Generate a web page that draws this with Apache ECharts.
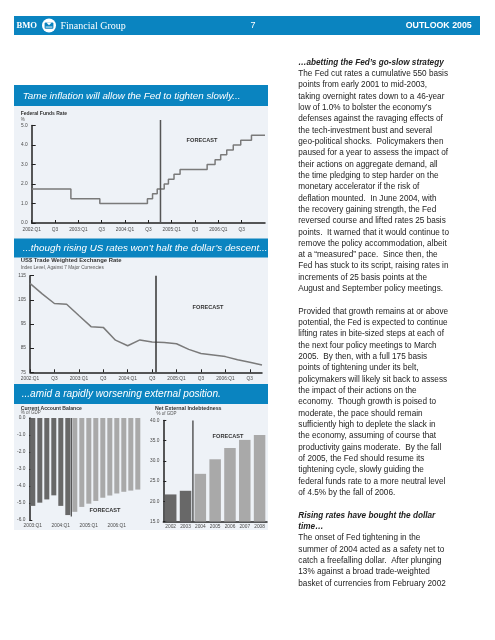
<!DOCTYPE html>
<html><head><meta charset="utf-8">
<script src="https://cdn.jsdelivr.net/npm/echarts@6/dist/echarts.min.js"></script>
<style>html,body{margin:0;padding:0;background:#fff}#c{width:495px;height:640px}</style>
</head><body><div id="c"></div>
<script>
// ---------------- DATA ----------------
// Federal funds rate: change dates (decimal years) and new target rate (%)
const fedDates = [2002.00, 2002.84, 2003.46, 2004.48, 2004.59, 2004.69, 2004.84, 2004.93, 2005.05, 2005.18, 2005.76, 2005.93, 2006.05, 2006.18, 2006.32, 2006.48, 2006.71, 2007.00];
const fedRates = [1.75, 1.25, 1.00, 1.25, 1.50, 1.75, 2.00, 2.25, 2.50, 2.75, 3.00, 3.25, 3.50, 3.75, 4.00, 4.25, 4.50, 4.50];
const fedForecastStart = 2004.76;
const fedYTicks = ['0.0', '1.0', '2.0', '3.0', '4.0', '5.0'];

// US$ trade weighted exchange rate, quarterly
const usdDates = [2002.00, 2002.25, 2002.50, 2002.75, 2003.00, 2003.25, 2003.50, 2003.75, 2004.00, 2004.25, 2004.50, 2004.75, 2005.00, 2005.25, 2005.50, 2005.75, 2006.00, 2006.25, 2006.50, 2006.75];
const usdIndex = [111.8, 107.5, 103.5, 103.2, 98.5, 93.9, 93.6, 88.3, 86.0, 88.4, 87.5, 87.3, 86.8, 84.5, 82.8, 82.2, 81.5, 80.2, 79.2, 78.0];
const usdForecastStart = 2004.58;

// x tick labels shared by the two time charts (every half year)
const halfYearLabels = ['2002:Q1', 'Q3', '2003:Q1', 'Q3', '2004:Q1', 'Q3', '2005:Q1', 'Q3', '2006:Q1', 'Q3'];

// Current account balance, % of GDP
const caQuarters = ['2003:Q1', '2003:Q2', '2003:Q3', '2003:Q4', '2004:Q1', '2004:Q2', '2004:Q3', '2004:Q4', '2005:Q1', '2005:Q2', '2005:Q3', '2005:Q4', '2006:Q1', '2006:Q2', '2006:Q3', '2006:Q4'];
const caBalance = [-5.17, -4.98, -4.79, -4.55, -5.17, -5.71, -5.52, -5.23, -5.04, -4.88, -4.69, -4.56, -4.44, -4.34, -4.27, -4.21];
const caForecastFrom = '2004:Q3';

// Net external indebtedness, % of GDP
const neYears = ['2002', '2003', '2004', '2005', '2006', '2007', '2008'];
const neDebt = [21.7, 22.6, 26.8, 30.4, 33.2, 35.2, 36.4];
const neForecastFrom = '2004';

// Page text
const headerLeft = 'Financial Group';
const headerPage = '7';
const headerRight = 'OUTLOOK 2005';
const chartTitles = [
  'Tame inflation will allow the Fed to tighten slowly...',
  '...though rising US rates won\u2019t halt the dollar\u2019s descent...',
  '...amid a rapidly worsening external position.'
];
const bodyLines = [
  ['h', '\u2026abetting the Fed\u2019s go-slow strategy'],
  ['b', 'The Fed cut rates a cumulative 550 basis'],
  ['b', 'points from early 2001 to mid-2003,'],
  ['b', 'taking overnight rates down to a 46-year'],
  ['b', 'low of 1.0% to bolster the economy\u2019s'],
  ['b', 'defenses against the ravaging effects of'],
  ['b', 'the tech-investment bust and several'],
  ['b', 'geo-political shocks.  Policymakers then'],
  ['b', 'paused for a year to assess the impact of'],
  ['b', 'their actions on aggregate demand, all'],
  ['b', 'the time pledging to step harder on the'],
  ['b', 'monetary accelerator if the risk of'],
  ['b', 'deflation mounted.  In June 2004, with'],
  ['b', 'the recovery gaining strength, the Fed'],
  ['b', 'reversed course and lifted rates 25 basis'],
  ['b', 'points.  It warned that it would continue to'],
  ['b', 'remove the policy accommodation, albeit'],
  ['b', 'at a \u201cmeasured\u201d pace.  Since then, the'],
  ['b', 'Fed has stuck to its script, raising rates in'],
  ['b', 'increments of 25 basis points at the'],
  ['b', 'August and September policy meetings.'],
  ['b', ' '],
  ['b', 'Provided that growth remains at or above'],
  ['b', 'potential, the Fed is expected to continue'],
  ['b', 'lifting rates in bite-sized steps at each of'],
  ['b', 'the next four policy meetings to March'],
  ['b', '2005.  By then, with a full 175 basis'],
  ['b', 'points of tightening under its belt,'],
  ['b', 'policymakers will likely sit back to assess'],
  ['b', 'the impact of their actions on the'],
  ['b', 'economy.  Though growth is poised to'],
  ['b', 'moderate, the pace should remain'],
  ['b', 'sufficiently high to deplete the slack in'],
  ['b', 'the economy, assuming of course that'],
  ['b', 'productivity gains moderate.  By the fall'],
  ['b', 'of 2005, the Fed should resume its'],
  ['b', 'tightening cycle, slowly guiding the'],
  ['b', 'federal funds rate to a more neutral level'],
  ['b', 'of 4.5% by the fall of 2006.'],
  ['b', ' '],
  ['h', 'Rising rates have bought the dollar'],
  ['h', 'time\u2026'],
  ['b', 'The onset of Fed tightening in the'],
  ['b', 'summer of 2004 acted as a safety net to'],
  ['b', 'catch a freefalling dollar.  After plunging'],
  ['b', '13% against a broad trade-weighted'],
  ['b', 'basket of currencies from February 2002']
];

// ---------------- STYLE ----------------
const FONT = '"Liberation Sans", Arial, sans-serif';
const SERIF = '"Liberation Serif", "Times New Roman", serif';
const BLUE = '#0a84c0';
const PANEL = '#eef2f7';
const AX = '#222';
const LBL = '#4a4a4a';
const DARK = '#686868';
const LIGHT = '#a9a9a9';

function halfYearFmt(v) {
  const i = Math.round((v - 2002) / 0.5);
  if (Math.abs(v - (2002 + i * 0.5)) > 1e-6) return '';
  return halfYearLabels[i] || '';
}
function axisLine() { return { show: true, onZero: false, lineStyle: { color: AX, width: 1.5 } }; }
function ticks(len) { return { show: true, inside: true, length: len, lineStyle: { color: AX, width: 1 } }; }
function lbl(extra) { return Object.assign({ fontSize: 4.8, color: LBL, fontFamily: FONT, margin: 4 }, extra || {}); }

const caSplit = caQuarters.indexOf(caForecastFrom);
const neSplit = neYears.indexOf(neForecastFrom);

const grids = [
  { left: 31.7, top: 125.5, width: 233.3, height: 97.5 },
  { left: 30, top: 275.7, width: 232, height: 96.6 },
  { left: 29.3, top: 418, width: 112, height: 102 },
  { left: 163.3, top: 420.5, width: 103.7, height: 101 }
].map(g => Object.assign({ containLabel: false, outerBoundsMode: 'none', show: false }, g));

const option = {
  animation: false,
  backgroundColor: '#ffffff',
  grid: grids,
  xAxis: [
    { gridIndex: 0, type: 'value', min: 2002, max: 2007, interval: 0.5, axisLine: axisLine(), axisTick: ticks(3),
      axisLabel: lbl({ formatter: halfYearFmt, showMaxLabel: false }), splitLine: { show: false } },
    { gridIndex: 1, type: 'value', min: 2002, max: 2006.75, interval: 0.5, axisLine: axisLine(), axisTick: ticks(3),
      axisLabel: lbl({ formatter: halfYearFmt, showMaxLabel: false }), splitLine: { show: false } },
    { gridIndex: 2, type: 'category', data: caQuarters, position: 'bottom', axisLine: { show: false, onZero: false },
      axisTick: { show: false }, axisLabel: lbl({ interval: 3, margin: 3 }) },
    { gridIndex: 2, type: 'value', min: -0.5, max: caQuarters.length - 0.5, show: false },
    { gridIndex: 3, type: 'category', data: neYears, axisLine: axisLine(), axisTick: { show: false },
      axisLabel: lbl({ margin: 3 }) },
    { gridIndex: 3, type: 'value', min: -0.5, max: neYears.length - 0.5, show: false }
  ],
  yAxis: [
    { gridIndex: 0, type: 'value', min: 0, max: 5, interval: 1, axisLine: axisLine(), axisTick: ticks(4),
      axisLabel: lbl({ formatter: v => fedYTicks[Math.round(v)] }), splitLine: { show: false } },
    { gridIndex: 1, type: 'value', min: 75, max: 115, interval: 10, axisLine: axisLine(), axisTick: ticks(4),
      axisLabel: lbl(), splitLine: { show: false } },
    { gridIndex: 2, type: 'value', min: -6, max: 0, interval: 1, axisLine: axisLine(), axisTick: ticks(3),
      axisLabel: lbl({ formatter: v => v.toFixed(1) }), splitLine: { show: false } },
    { gridIndex: 3, type: 'value', min: 15, max: 40, interval: 5, axisLine: axisLine(), axisTick: ticks(3),
      axisLabel: lbl({ formatter: v => v.toFixed(1) }), splitLine: { show: false } }
  ],
  series: [
    { type: 'line', xAxisIndex: 0, yAxisIndex: 0, step: 'end', symbol: 'none',
      lineStyle: { color: '#7a7a7a', width: 1.5 }, data: fedDates.map((d, i) => [d, fedRates[i]]) },
    { type: 'line', xAxisIndex: 0, yAxisIndex: 0, symbol: 'none', clip: false,
      lineStyle: { color: '#555', width: 1.5 }, data: [[fedForecastStart, 0], [fedForecastStart, 5.28]] },
    { type: 'line', xAxisIndex: 1, yAxisIndex: 1, symbol: 'none',
      lineStyle: { color: '#7a7a7a', width: 1.5 }, data: usdDates.map((d, i) => [d, usdIndex[i]]),
      markLine: { silent: true, symbol: 'none', label: { show: false },
        lineStyle: { color: '#333', width: 1.5, type: 'solid' }, data: [{ xAxis: usdForecastStart }] } },
    { type: 'bar', xAxisIndex: 2, yAxisIndex: 2, barWidth: 5,
      data: caBalance.map((v, i) => ({ value: v, itemStyle: { color: i < caSplit ? DARK : LIGHT } })) },
    { type: 'line', xAxisIndex: 3, yAxisIndex: 2, symbol: 'none', clip: false,
      lineStyle: { color: '#444', width: 1.2 }, data: [[caSplit - 0.5, 0], [caSplit - 0.5, -5.8]] },
    { type: 'bar', xAxisIndex: 4, yAxisIndex: 3, barWidth: 11.5,
      data: neDebt.map((v, i) => ({ value: v, itemStyle: { color: i < neSplit ? DARK : LIGHT } })) },
    { type: 'line', xAxisIndex: 5, yAxisIndex: 3, symbol: 'none', clip: false,
      lineStyle: { color: '#333', width: 1.2 }, data: [[neSplit - 0.5, 15], [neSplit - 0.5, 40]] }
  ],
  graphic: { elements: [] }
};

const G = option.graphic.elements;
function txt(x, y, text, o) {
  G.push({ type: 'text', x: x, y: y, z: 100, silent: true,
    style: Object.assign({ text: text, fill: '#333', fontFamily: FONT, fontSize: 5, align: 'left', verticalAlign: 'middle' }, o || {}) });
}
// backgrounds
G.push({ type: 'rect', z: -10, silent: true, shape: { x: 14, y: 85, width: 254, height: 445 }, style: { fill: PANEL } });
G.push({ type: 'rect', z: -5, silent: true, shape: { x: 14, y: 16, width: 466, height: 19 }, style: { fill: BLUE } });
G.push({ type: 'rect', z: -5, silent: true, shape: { x: 14, y: 85, width: 254, height: 21 }, style: { fill: BLUE } });
G.push({ type: 'rect', z: -5, silent: true, shape: { x: 14, y: 238.5, width: 254, height: 19 }, style: { fill: BLUE } });
G.push({ type: 'rect', z: -5, silent: true, shape: { x: 14, y: 384, width: 254, height: 20 }, style: { fill: BLUE } });
// header
txt(16.5, 25.8, 'BMO', { fill: '#fff', fontFamily: SERIF, fontWeight: 'bold', fontSize: 8.6 });
G.push({ type: 'circle', z: 90, silent: true, shape: { cx: 49, cy: 25.5, r: 7 }, style: { fill: '#fff' } });
G.push({ type: 'rect', z: 95, silent: true, shape: { x: 44.6, y: 22.6, width: 8.8, height: 6.2, r: 1 }, style: { fill: BLUE } });
G.push({ type: 'polygon', z: 96, silent: true, shape: { points: [[46.3, 22.4], [49, 25.2], [51.7, 22.4]] }, style: { fill: '#fff' } });
G.push({ type: 'rect', z: 96, silent: true, shape: { x: 45.6, y: 26.6, width: 6.8, height: 0.9 }, style: { fill: '#fff' } });
txt(60.5, 26, headerLeft, { fill: '#fff', fontFamily: SERIF, fontSize: 10 });
txt(253, 26, headerPage, { fill: '#fff', fontSize: 9, align: 'center' });
txt(471.7, 26, headerRight, { fill: '#fff', fontSize: 8.8, fontWeight: 'bold', align: 'right' });
// section titles
txt(22.7, 95.8, chartTitles[0], { fill: '#fff', fontSize: 9.8, fontStyle: 'italic' });
txt(22.7, 248.2, chartTitles[1], { fill: '#fff', fontSize: 9.8, fontStyle: 'italic' });
txt(21.7, 394.2, chartTitles[2], { fill: '#fff', fontSize: 10.1, fontStyle: 'italic' });
// chart captions
txt(20.7, 114, 'Federal Funds Rate', { fontWeight: 'bold', fontSize: 5 });
txt(20.7, 119.3, '%', { fontSize: 4.5, fill: '#555' });
txt(20.7, 260.8, 'US$ Trade Weighted Exchange Rate', { fontWeight: 'bold', fontSize: 5.9 });
txt(20.7, 267.7, 'Index Level, Against 7 Major Currencies', { fontSize: 4.7, fill: '#555' });
txt(20.7, 408.3, 'Current Account Balance', { fontWeight: 'bold', fontSize: 5.1 });
txt(20.7, 413.2, '% of GDP', { fontSize: 4.5, fill: '#555' });
txt(155, 409, 'Net External Indebtedness', { fontWeight: 'bold', fontSize: 5.3 });
txt(156.5, 414.2, '% of GDP', { fontSize: 4.5, fill: '#555' });
// forecast labels
txt(202, 140.5, 'FORECAST', { fontWeight: 'bold', fontSize: 5.6, align: 'center' });
txt(208, 307.7, 'FORECAST', { fontWeight: 'bold', fontSize: 5.6, align: 'center' });
txt(105, 510, 'FORECAST', { fontWeight: 'bold', fontSize: 5.6, align: 'center' });
txt(228, 436, 'FORECAST', { fontWeight: 'bold', fontSize: 5.6, align: 'center' });
// body text column
const LH = 11.33;
G.push({ type: 'text', x: 298.3, y: 62.3 - LH / 2, z: 100, silent: true,
  style: { text: bodyLines.map(l => '{' + l[0] + '|' + l[1] + '}').join('\n'), align: 'left', verticalAlign: 'top',
    rich: {
      h: { fontFamily: FONT, fontSize: 8.2, fontWeight: 'bold', fontStyle: 'italic', fill: '#222', lineHeight: LH },
      b: { fontFamily: FONT, fontSize: 8.2, fill: '#222', lineHeight: LH }
    } } });

const chart = echarts.init(document.getElementById('c'), null, { renderer: 'canvas' });
chart.setOption(option);
</script>
</body></html>
